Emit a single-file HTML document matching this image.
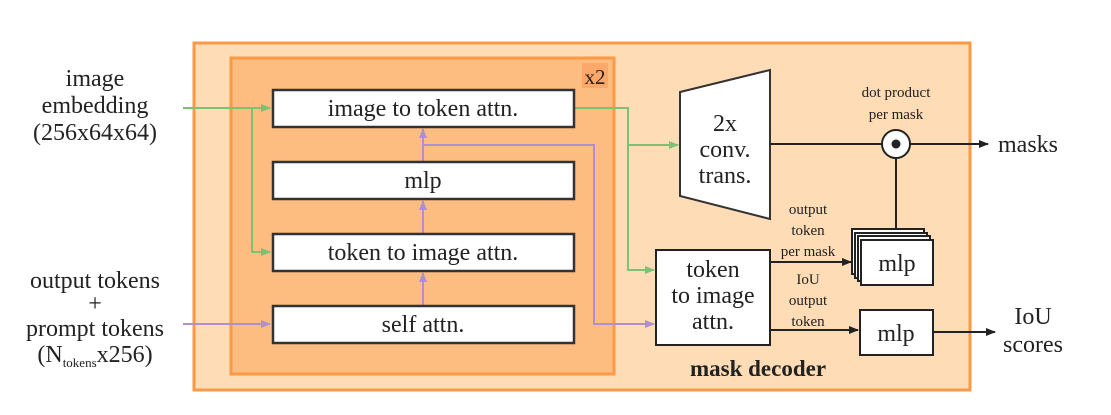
<!DOCTYPE html>
<html><head><meta charset="utf-8"><style>body{margin:0;background:#fff}svg{display:block}svg text{font-family:"Liberation Serif","Times New Roman","DejaVu Serif",serif !important;fill:#222}</style></head><body>
<svg width="1111" height="415" viewBox="0 0 1111 415" xmlns="http://www.w3.org/2000/svg" font-family="'Liberation Serif', 'DejaVu Serif', serif">
<defs>
<marker id="ag" markerWidth="10" markerHeight="8" refX="9" refY="4" orient="auto" markerUnits="userSpaceOnUse"><path d="M0,0 L10,4 L0,8z" fill="#7cc270"/></marker>
<marker id="ap" markerWidth="10" markerHeight="8" refX="9" refY="4" orient="auto" markerUnits="userSpaceOnUse"><path d="M0,0 L10,4 L0,8z" fill="#b08fd0"/></marker>
<marker id="ak" markerWidth="10" markerHeight="8" refX="9" refY="4" orient="auto" markerUnits="userSpaceOnUse"><path d="M0,0 L10,4 L0,8z" fill="#222"/></marker>
</defs>
<rect x="194" y="43" width="776" height="347" fill="#fedcb5" stroke="#fb9a45" stroke-width="3"/>
<rect x="231" y="58" width="383" height="316" fill="#fdbc80" stroke="#fb9a45" stroke-width="3"/>
<rect x="582" y="63" width="26" height="25" fill="#fba868"/>
<text x="595" y="84" font-size="21" text-anchor="middle" fill="#333">x2</text>
<g stroke="#7cc270" stroke-width="2" fill="none">
<path d="M183,108 L270,108" marker-end="url(#ag)"/>
<path d="M252,108 L252,252 L270,252" marker-end="url(#ag)"/>
<path d="M574,108 L628,108 L628,270 L654,270" marker-end="url(#ag)"/>
<path d="M628,145 L678,145" marker-end="url(#ag)"/>
</g>
<g stroke="#b08fd0" stroke-width="2" fill="none">
<path d="M183,324 L270,324" marker-end="url(#ap)"/>
<path d="M423,305 L423,273" marker-end="url(#ap)"/>
<path d="M423,233 L423,201" marker-end="url(#ap)"/>
<path d="M423,162 L423,129" marker-end="url(#ap)"/>
<path d="M423,145 L594,145 L594,324 L654,324" marker-end="url(#ap)"/>
</g>
<g fill="#fff" stroke="#333" stroke-width="2.5">
<rect x="273" y="90" width="301" height="37"/>
<rect x="273" y="162" width="301" height="37"/>
<rect x="273" y="234" width="301" height="37"/>
<rect x="273" y="306" width="301" height="37"/>
</g>
<g font-size="24" text-anchor="middle">
<text x="423" y="116">image to token attn.</text>
<text x="423" y="188">mlp</text>
<text x="423" y="260">token to image attn.</text>
<text x="423" y="332">self attn.</text>
</g>
<path d="M680,92 L770,70 L770,219 L680,196z" fill="#fff" stroke="#333" stroke-width="2"/>
<g font-size="24" text-anchor="middle"><text x="725" y="131">2x</text><text x="725" y="157">conv.</text><text x="725" y="183">trans.</text></g>
<g stroke="#222" stroke-width="2" fill="none">
<path d="M770,144 L882,144"/>
<path d="M910,144 L988,144" marker-end="url(#ak)"/>
<path d="M896,158 L896,240"/>
<path d="M770,262 L851,262" marker-end="url(#ak)"/>
<path d="M770,330 L858,330" marker-end="url(#ak)"/>
<path d="M933,332 L995,332" marker-end="url(#ak)"/>
</g>
<circle cx="896" cy="144" r="14" fill="#fff" stroke="#222" stroke-width="2"/>
<circle cx="896" cy="144" r="4.5" fill="#222"/>
<g fill="#fff" stroke="#222" stroke-width="2">
<rect x="852" y="229" width="72" height="45"/>
<rect x="855" y="233" width="72" height="45"/>
<rect x="858" y="236" width="72" height="45"/>
<rect x="861" y="240" width="72" height="45"/>
<rect x="656" y="250" width="114" height="95"/>
<rect x="860" y="310" width="73" height="45"/>
</g>
<g font-size="24" text-anchor="middle">
<text x="897" y="271">mlp</text>
<text x="896" y="341">mlp</text>
<text x="713" y="277">token</text>
<text x="713" y="303">to image</text>
<text x="713" y="329">attn.</text>
</g>
<g font-size="15" text-anchor="middle">
<text x="808" y="214">output</text><text x="808" y="235">token</text><text x="808" y="256">per mask</text>
<text x="808" y="284">IoU</text><text x="808" y="305">output</text><text x="808" y="326">token</text>
<text x="896" y="97">dot product</text><text x="896" y="119">per mask</text>
</g>
<text x="758" y="376" font-size="23" font-weight="bold" text-anchor="middle">mask decoder</text>
<g font-size="24" text-anchor="middle">
<text x="95" y="86">image</text><text x="95" y="113">embedding</text><text x="95" y="140">(256x64x64)</text>
<text x="95" y="288">output tokens</text><text x="95" y="311">+</text><text x="95" y="336">prompt tokens</text>
<text x="95" y="362">(N<tspan font-size="13" dy="5">tokens</tspan><tspan dy="-5">x256)</tspan></text>
<text x="1028" y="152">masks</text>
<text x="1033" y="324">IoU</text><text x="1033" y="352">scores</text>
</g>
</svg>
</body></html>
